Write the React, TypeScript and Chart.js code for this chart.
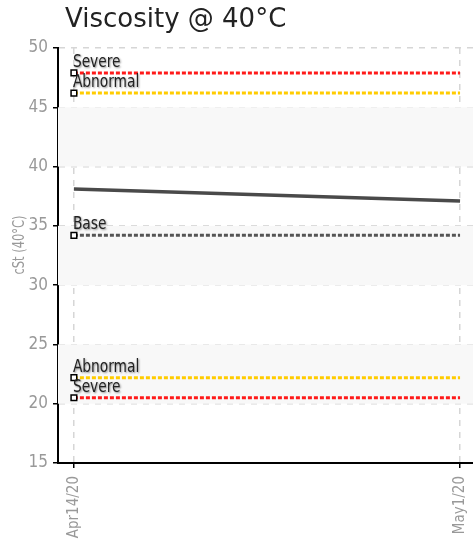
import React, { useEffect, useRef } from "react";
import { Chart, registerables } from "chart.js";

Chart.register(...registerables);

const categories = ["Apr14/20", "May1/20"];
const dayOffsets = [0, 17];
const viscosity = [38.1, 37.1];
const severeHigh = [47.9, 47.9];
const abnormalHigh = [46.2, 46.2];
const baseLine = [34.2, 34.2];
const abnormalLow = [22.2, 22.2];
const severeLow = [20.5, 20.5];
const thresholdLabels = ["Severe", "Abnormal", "Base", "Abnormal", "Severe"];
const yTicks = [15, 20, 25, 30, 35, 40, 45, 50];
const yAxisTitle = "cSt (40°C)";
const chartTitle = "Viscosity @ 40°C";

const NARROW = '"DejaVu Sans Condensed", "DejaVu Sans", sans-serif';

export default function App() {
  const ref = useRef<HTMLCanvasElement | null>(null);

  useEffect(() => {
    document.body.style.margin = "0";
    const canvas = ref.current!;
    const pts = (vals: number[]) => vals.map((v, i) => ({ x: dayOffsets[i], y: v }));
    const thr = (vals: number[], color: string, label: string) => ({
      label,
      data: pts(vals),
      borderColor: color,
      borderWidth: 3,
      borderDash: [4, 2],
      pointRadius: [4, 0],
      pointHoverRadius: 0,
      pointStyle: "rect",
      pointBackgroundColor: "#ffffff",
      pointBorderColor: "#000000",
      pointBorderWidth: 1.5,
      fill: false,
    });

    const bands = {
      id: "bands",
      beforeDatasetsDraw(chart: any) {
        const { ctx, chartArea } = chart;
        const y = chart.scales.y;
        ctx.save();
        ctx.fillStyle = "#f8f8f8";
        for (let i = 0; i < yTicks.length - 1; i++) {
          if (i % 2 === 1) {
            const top = y.getPixelForValue(yTicks[i + 1]);
            const bot = y.getPixelForValue(yTicks[i]);
            ctx.fillRect(chartArea.left, top, chartArea.right - chartArea.left, bot - top);
          }
        }
        ctx.restore();
      },
    };

    const labelsPlugin = {
      id: "thrLabels",
      afterDatasetsDraw(chart: any) {
        const { ctx } = chart;
        for (let d = 1; d < chart.data.datasets.length; d++) {
          const meta = chart.getDatasetMeta(d);
          const p = meta.data[0];
          ctx.save();
          ctx.font = `17px ${NARROW}`;
          try { (ctx as any).fontStretch = "condensed"; } catch (e) {}
          ctx.fillStyle = "#222";
          ctx.textAlign = "left";
          ctx.textBaseline = "alphabetic";
          ctx.shadowColor = "rgba(0,0,0,0.45)";
          ctx.shadowOffsetX = 1;
          ctx.shadowOffsetY = 1;
          ctx.shadowBlur = 2;
          ctx.translate(p.x - 1, p.y - 6);
          ctx.scale(0.9, 1);
          ctx.fillText(thresholdLabels[d - 1], 0, 0);
          ctx.restore();
        }
      },
    };

    const titlePlugin = {
      id: "myTitle",
      afterDraw(chart: any) {
        const { ctx } = chart;
        ctx.save();
        ctx.font = '26px "DejaVu Sans", sans-serif';
        ctx.fillStyle = "#222";
        ctx.textAlign = "left";
        ctx.textBaseline = "alphabetic";
        ctx.fillText(chartTitle, 65, 27);
        ctx.restore();

        ctx.save();
        ctx.font = `15px ${NARROW}`;
        try { (ctx as any).fontStretch = "condensed"; } catch (e) {}
        ctx.fillStyle = "#999";
        ctx.textAlign = "center";
        ctx.textBaseline = "middle";
        ctx.translate(20, 245);
        ctx.rotate(-Math.PI / 2);
        ctx.scale(0.85, 1);
        ctx.fillText(yAxisTitle, 0, 0);
        ctx.restore();
      },
    };

    const chart = new Chart(canvas, {
      type: "line",
      data: {
        datasets: [
          {
            label: "Viscosity",
            data: pts(viscosity),
            borderColor: "#4a4a4a",
            borderWidth: 3.5,
            pointRadius: 0,
            fill: false,
          } as any,
          thr(severeHigh, "#ff1a1a", "Severe"),
          thr(abnormalHigh, "#ffcc00", "Abnormal"),
          thr(baseLine, "#555555", "Base"),
          thr(abnormalLow, "#ffcc00", "Abnormal"),
          thr(severeLow, "#ff1a1a", "Severe"),
        ],
      },
      options: {
        animation: false,
        responsive: false,
        maintainAspectRatio: false,
        layout: { autoPadding: false, padding: { top: 48, right: 0, left: 0, bottom: 0 } },
        plugins: { legend: { display: false }, tooltip: { enabled: false }, title: { display: false } },
        scales: {
          x: {
            type: "linear",
            min: -0.7,
            max: 17.57,
            afterBuildTicks: (s: any) => {
              s.ticks = dayOffsets.map((v) => ({ value: v }));
            },
            afterFit: (s: any) => {
              s.height = 80;
              s.paddingRight = 0;
              s.paddingLeft = 0;
            },
            ticks: {
              autoSkip: false,
              minRotation: 90,
              maxRotation: 90,
              padding: 8,
              color: "#999",
              font: { family: NARROW, size: 15, weight: "condensed" },
              callback: (v: any) => categories[dayOffsets.indexOf(Number(v))] ?? "",
            },
            grid: {
              color: "#d6d6d6",
              lineWidth: 1.5,
              tickColor: "#000",
              tickLength: 5,
              tickWidth: 1.5,
            },
            border: { display: true, color: "#000", width: 2, dash: [6, 6] },
          },
          y: {
            min: 15,
            max: 50,
            afterBuildTicks: (s: any) => {
              s.ticks = yTicks.map((v) => ({ value: v }));
            },
            afterFit: (s: any) => {
              s.width = 58;
              s.paddingTop = 0;
              s.paddingBottom = 0;
            },
            ticks: {
              padding: 5,
              color: "#999",
              font: { family: NARROW, size: 17, weight: "condensed" },
            },
            grid: {
              color: "#d6d6d6",
              lineWidth: 1.5,
              tickColor: "#000",
              tickLength: 5,
              tickWidth: 1.5,
            },
            border: { display: true, color: "#000", width: 2, dash: [6, 6] },
          },
        },
      } as any,
      plugins: [bands, labelsPlugin, titlePlugin],
    });
    return () => chart.destroy();
  }, []);

  return (
    <div style={{ width: 473, height: 543 }}>
      <canvas ref={ref} width={473} height={543} style={{ width: 473, height: 543, display: "block" }} />
    </div>
  );
}
